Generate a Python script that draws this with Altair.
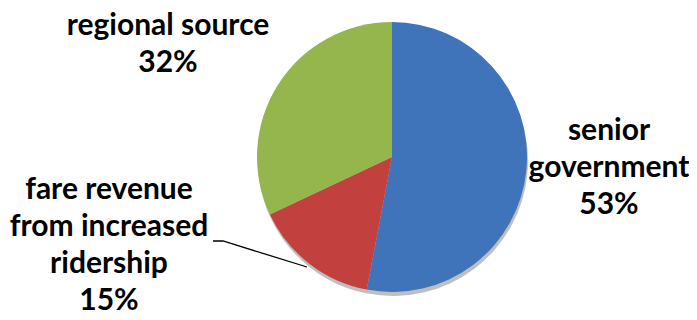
import altair as alt
import pandas as pd

categories = ["senior government", "fare revenue from increased ridership", "regional source"]
values = [53, 15, 32]
label_text = ["senior\ngovernment\n53%", "fare revenue\nfrom increased\nridership\n15%", "regional source\n32%"]
colors = ["#3F74BB", "#C2413E", "#95B64C"]

# layout (pixels inside the 8px page margin)
cx, cy, r = 384, 149, 135
label_x = [601, 101, 160]
label_y = [108, 167, 3]

df = pd.DataFrame({"category": categories, "value": values, "order": [0, 1, 2]})
lab = pd.DataFrame({"text": label_text, "lx": label_x, "ly": label_y})

shadow = alt.Chart(df).mark_arc(outerRadius=r, color="#000000", opacity=0.25).encode(
    theta=alt.Theta("value:Q", stack=True),
    order="order:Q",
    x=alt.value(cx + 1), y=alt.value(cy + 4),
)

pie = alt.Chart(df).mark_arc(outerRadius=r).encode(
    theta=alt.Theta("value:Q", stack=True),
    color=alt.Color("category:N", scale=alt.Scale(domain=categories, range=colors), legend=None),
    order="order:Q",
    x=alt.value(cx), y=alt.value(cy),
)

leader_pts = pd.DataFrame({"px": [205, 215, 299], "py": [233, 233, 259], "o": [0, 1, 2]})
leader = alt.Chart(leader_pts).mark_line(color="black", strokeWidth=1.3).encode(
    x=alt.X("px:Q", scale=alt.Scale(domain=[0, 681], range=[0, 681]), axis=None),
    y=alt.Y("py:Q", scale=alt.Scale(domain=[0, 304], range=[0, 304]), axis=None),
    order="o:Q",
)

labels = alt.Chart(lab).mark_text(
    font="Lato", fontWeight="bold", fontSize=30, lineHeight=37,
    align="center", baseline="top", color="black", lineBreak="\n",
).encode(
    x=alt.X("lx:Q", scale=alt.Scale(domain=[0, 681], range=[0, 681]), axis=None),
    y=alt.Y("ly:Q", scale=alt.Scale(domain=[0, 304], range=[0, 304]), axis=None),
    text="text:N",
)

chart = alt.layer(shadow, pie, leader, labels).properties(
    width=681, height=304, autosize=alt.AutoSizeParams(type="none"), padding=0
).configure(background="white").configure_view(stroke=None, strokeWidth=0)

chart.save("out.html", embed_options={"renderer": "svg", "actions": False})
